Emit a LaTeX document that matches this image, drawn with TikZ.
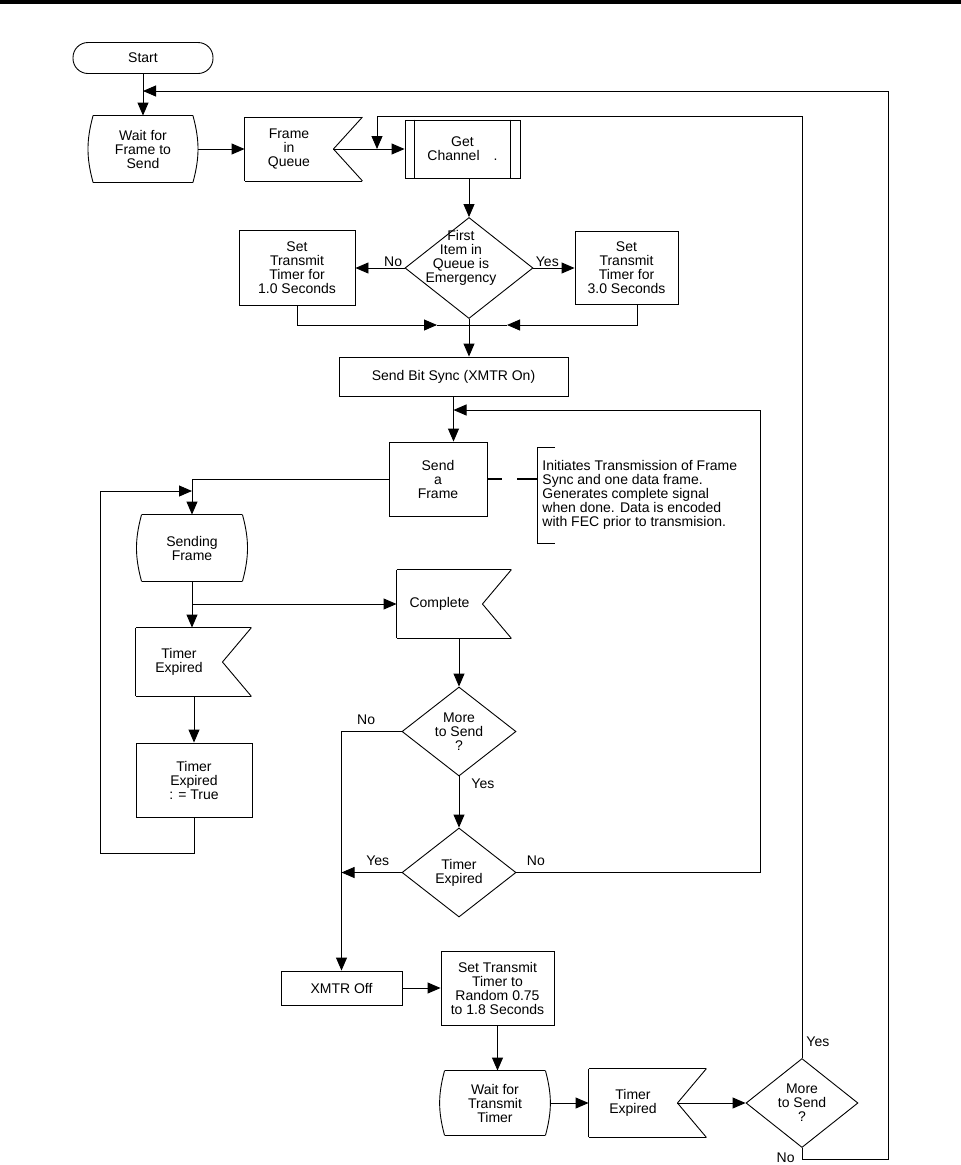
\documentclass[tikz,border=0pt]{standalone}
\usepackage{fontspec}
\setmainfont{Liberation Sans}
\usetikzlibrary{positioning}
\usetikzlibrary{shapes.geometric}
\usetikzlibrary{arrows.meta}

\tikzset{
  every node/.style={font=\fontsize{14}{14}\selectfont},
  box/.style={rectangle, draw, align=center, inner sep=0pt},
  term/.style={box, rounded corners=15pt},
  waitbox/.style={rectangle, align=center, inner sep=0pt,
    append after command={
      ([xshift=5pt]\tikzlastnode.north west) edge ([xshift=-5pt]\tikzlastnode.north east)
      ([xshift=-5pt]\tikzlastnode.north east) edge[bend left=15] ([xshift=-5pt]\tikzlastnode.south east)
      ([xshift=-5pt]\tikzlastnode.south east) edge ([xshift=5pt]\tikzlastnode.south west)
      ([xshift=5pt]\tikzlastnode.south west) edge[bend left=15] ([xshift=5pt]\tikzlastnode.north west)}},
  flagbox/.style={rectangle, align=center, inner sep=0pt,
    append after command={
      (\tikzlastnode.north west) edge ([xshift=29pt]\tikzlastnode.north east)
      ([xshift=29pt]\tikzlastnode.north east) edge (\tikzlastnode.east)
      (\tikzlastnode.east) edge ([xshift=29pt]\tikzlastnode.south east)
      ([xshift=29pt]\tikzlastnode.south east) edge (\tikzlastnode.south west)
      (\tikzlastnode.south west) edge (\tikzlastnode.north west)}},
  procbox/.style={box,
    append after command={
      ([xshift=10pt]\tikzlastnode.north west) edge ([xshift=10pt]\tikzlastnode.south west)
      ([xshift=-10pt]\tikzlastnode.north east) edge ([xshift=-10pt]\tikzlastnode.south east)}},
  decision/.style={diamond, draw, inner sep=0pt},
  arr/.style={-{Triangle[length=13pt,width=11pt]}},
  yn/.style={inner sep=0pt},
}

\begin{document}
\begin{tikzpicture}[x=1pt, y=-1pt, line width=0.9pt]
  \useasboundingbox (0,0) rectangle (961,1165);
  \draw[line width=4pt] (0,2) -- (961,2);

  \node(start)[term, minimum width=140pt, minimum height=31pt] at (143,58) {Start};
  \node(wait)[waitbox, minimum width=109pt, minimum height=66pt] at (143,149) {Wait for\\Frame to\\Send};
  \node(fiq)[flagbox, minimum width=88pt, minimum height=63pt] at (289,149) {Frame\\in\\Queue};
  \node(getch)[procbox, minimum width=115pt, minimum height=58pt] at (462.5,149) {Get\\Channel\hspace{1em}.};

  \node(first)[decision, minimum width=128pt, minimum height=101pt,
    label={[align=center, xshift=-8pt, yshift=10pt]center:First\\Item in\\Queue is\\Emergency}] at (469,268) {};
  \node(setone)[box, minimum width=116pt, minimum height=75pt] at (297,268) {Set\\Transmit\\Timer for\\1.0 Seconds};
  \node(setthree)[box, minimum width=103pt, minimum height=73pt] at (626.5,268) {Set\\Transmit\\Timer for\\3.0 Seconds};
  \node(no1)[yn, above left=1pt and 2pt of first.west]{No};
  \node(yes1)[yn, above right=1pt and 2pt of first.east]{Yes};
  \coordinate(merge) at (469,325);

  \node(bitsync)[box, minimum width=229pt, minimum height=39pt] at (453.5,376.5) {Send Bit Sync (XMTR On)};
  \node(sendfr)[box, minimum width=98pt, minimum height=74pt] at (438,479) {Send\\a\\Frame};
  \node(note)[anchor=west, minimum height=95pt, inner xsep=5pt, inner ysep=0pt, align=left] at (537,495)
    {Initiates Transmission of Frame\\Sync and one data frame.\\Generates complete signal\\when done. Data is encoded\\with FEC prior to transmision.};

  \node(sendg)[waitbox, minimum width=110pt, minimum height=66pt] at (192,548) {Sending\\Frame};
  \node(compl)[flagbox, minimum width=85pt, minimum height=68pt] at (439.5,604) {Complete};
  \node(texp)[flagbox, minimum width=86pt, minimum height=68pt] at (179,662) {Timer\\Expired};
  \node(expset)[box, minimum width=116pt, minimum height=74pt] at (194,780) {Timer\\Expired\\: = True};

  \node(more)[decision, minimum width=114pt, minimum height=89pt,
    label={[align=center]center:More\\to Send\\?}] at (459,731.5) {};
  \node(no2)[yn, above left=6pt and 26pt of more.west]{No};
  \node(yes2)[yn, below right=2pt and 12pt of more.south]{Yes};
  \node(expired)[decision, minimum width=114pt, minimum height=89pt,
    label={[align=center]center:Timer\\Expired}] at (459,872.5) {};
  \node(yes3)[yn, above left=6pt and 12pt of expired.west]{Yes};
  \node(no3)[yn, above right=6pt and 10pt of expired.east]{No};

  \node(xoff)[box, minimum width=121pt, minimum height=34pt] at (341.5,988) {XMTR Off};
  \node(setrnd)[box, minimum width=113pt, minimum height=74pt] at (497.5,988) {Set Transmit\\Timer to\\Random 0.75\\to 1.8 Seconds};
  \node(waittx)[waitbox, minimum width=110pt, minimum height=64pt] at (495,1103) {Wait for\\Transmit\\Timer};
  \node(texp2)[flagbox, minimum width=88pt, minimum height=68pt] at (633,1103) {Timer\\Expired};
  \node(moreb)[decision, minimum width=112pt, minimum height=89pt,
    label={[align=center]center:More\\to Send\\?}] at (802,1103) {};
  \node(yes4)[yn, above right=11pt and 4pt of moreb.north]{Yes};
  \node(no4)[yn, below left=4pt and 7pt of moreb.south]{No};

  \coordinate(outer) at (888,91);
  \coordinate(chtop) at (377,116);
  \coordinate(loopR) at (760,410);
  \coordinate(loopL) at (100,491);

  % top row
  \draw[arr] (start.south) -- (wait.north);
  \draw[arr] (moreb.south) -- ++(0,11) -| (outer) -- (outer -| wait.north);
  \draw[arr] (wait.east) -- (fiq.west);
  \draw[arr] (fiq.east) -- (getch.west);
  \draw[arr] (moreb.north) |- (chtop) -- (chtop |- getch.west);
  \draw[arr] (first.north |- getch.south) -- (first.north);

  % timer choice
  \draw[arr] (first.west) -- (setone.east);
  \draw[arr] (first.east) -- (setthree.west);
  \draw[arr] (setone.south) |- ([xshift=-32pt]merge);
  \draw ([xshift=-32pt]merge) -- (merge);
  \draw[arr] ([xshift=11pt]setthree.south) |- ([xshift=38pt]merge);
  \draw ([xshift=38pt]merge) -- (merge);
  \draw[arr] (first.south) -- (first.south |- bitsync.north);
  \draw[arr] (bitsync.south) -- (bitsync.south |- sendfr.north);

  % note
  \draw[dash pattern=on 15pt off 15pt on 20pt off 0pt, line width=1.5pt] (sendfr.east) -- (sendfr.east -| note.west);
  \draw ([xshift=18pt]note.north west) -- (note.north west) -- (note.south west) -- ([xshift=18pt]note.south west);

  % sending loop
  \draw[arr] (sendfr.west) -| (sendg.north);
  \draw[arr] (expset.south) -- ++(0,36) -| (loopL) -- (loopL -| sendg.north);
  \draw[arr] (sendg.south) -- (sendg.south |- texp.north);
  \draw[arr] (sendg.south |- compl.west) -- (compl.west);
  \draw[arr] (expset.north |- texp.south) -- (expset.north);
  \draw[arr] (more.north |- compl.south) -- (more.north);
  \draw[arr] (more.west) -| (xoff.north);
  \draw[arr] (more.south) -- (expired.north);
  \draw[arr] (expired.west) -- (expired.west -| xoff.north);
  \draw[arr] (expired.east) -| (loopR) -- (loopR -| bitsync.south);

  % bottom row
  \draw[arr] (xoff.east) -- (setrnd.west);
  \draw[arr] (setrnd.south) -- (setrnd.south |- waittx.north);
  \draw[arr] (waittx.east) -- (texp2.west);
  \draw[arr] (texp2.east) -- (moreb.west);
\end{tikzpicture}
\end{document}
